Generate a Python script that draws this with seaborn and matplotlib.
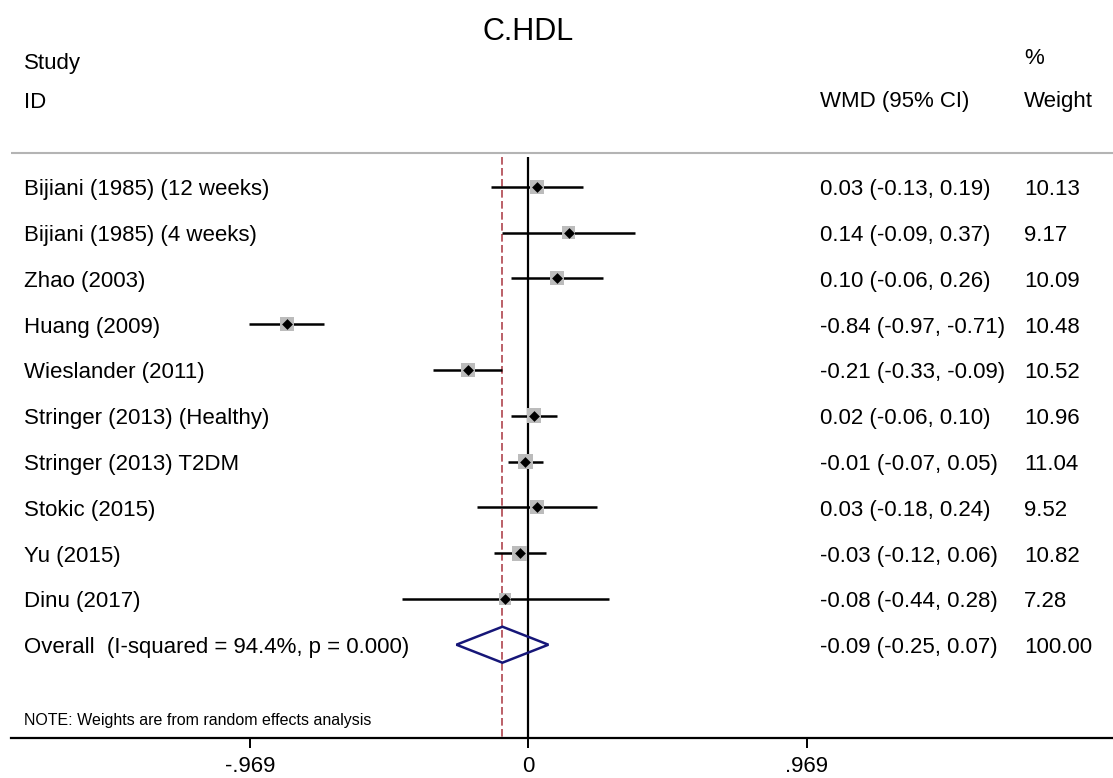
import numpy as np
import pandas as pd
import matplotlib
matplotlib.use("Agg")
import matplotlib.pyplot as plt
import matplotlib.transforms as mtransforms
from matplotlib.patches import Polygon
import seaborn as sns

# ---- data -------------------------------------------------------------
title = "C.HDL"
studies = [
    "Bijiani (1985) (12 weeks)",
    "Bijiani (1985) (4 weeks)",
    "Zhao (2003)",
    "Huang (2009)",
    "Wieslander (2011)",
    "Stringer (2013) (Healthy)",
    "Stringer (2013) T2DM",
    "Stokic (2015)",
    "Yu (2015)",
    "Dinu (2017)",
]
wmd = [0.03, 0.14, 0.10, -0.84, -0.21, 0.02, -0.01, 0.03, -0.03, -0.08]
ci_low = [-0.13, -0.09, -0.06, -0.97, -0.33, -0.06, -0.07, -0.18, -0.12, -0.44]
ci_high = [0.19, 0.37, 0.26, -0.71, -0.09, 0.10, 0.05, 0.24, 0.06, 0.28]
weights = [10.13, 9.17, 10.09, 10.48, 10.52, 10.96, 11.04, 9.52, 10.82, 7.28]

overall_label = "Overall  (I-squared = 94.4%, p = 0.000)"
overall_wmd = -0.09
overall_low = -0.25
overall_high = 0.07
overall_weight = 100.00

tick_values = [-0.969, 0.0, 0.969]
tick_labels = ["-.969", "0", ".969"]
note = "NOTE: Weights are from random effects analysis"

# ---- style ------------------------------------------------------------
sns.set_theme(style="white")
plt.rcParams["font.family"] = ["Liberation Sans", "DejaVu Sans"]
plt.rcParams["text.color"] = "black"
plt.rcParams["xtick.color"] = "black"
plt.rcParams["xtick.labelcolor"] = "black"

W, H = 1113, 778
fig = plt.figure(figsize=(W / 100, H / 100), dpi=100)

# layout in pixels
x_zero_px = 528.3
px_per_unit = 287.5
ax_left_px = 11
axis_y_px = 738
row0_px = 186.7
row_step_px = 45.8


def py2row(py):
    return (py - row0_px) / row_step_px


ax = fig.add_axes([ax_left_px / W, 1 - axis_y_px / H, 1 - ax_left_px / W, axis_y_px / H])

df = pd.DataFrame({
    "study": studies,
    "wmd": wmd,
    "low": ci_low,
    "high": ci_high,
    "weight": weights,
})
df["row"] = np.arange(len(df))
overall_row = len(df)

# confidence intervals
ax.hlines(df["row"], df["low"], df["high"], color="black", lw=1.8, zorder=3)

# weight boxes (area proportional to weight)
area_k = 10.5
wmin, wmax = min(weights), max(weights)
sns.scatterplot(data=df, x="wmd", y="row", size="weight",
                sizes=(area_k * wmin, area_k * wmax), size_norm=(wmin, wmax),
                marker="s", color="#bcbcbc", linewidth=0, legend=False,
                ax=ax, zorder=4)
# point estimates
sns.scatterplot(data=df, x="wmd", y="row", marker="D", color="black",
                s=30, linewidth=0, legend=False, ax=ax, zorder=5)

# pooled estimate diamond
half_h = 18 / row_step_px
diamond = Polygon([(overall_low, overall_row), (overall_wmd, overall_row - half_h),
                   (overall_high, overall_row), (overall_wmd, overall_row + half_h)],
                  closed=True, fill=False, edgecolor="#161678", lw=1.8, zorder=4)
ax.add_patch(diamond)

# null line and pooled-effect line
y_top, y_bot = py2row(157), py2row(axis_y_px)
ax.vlines(0, y_top, y_bot, color="black", lw=1.6, zorder=2)
ax.vlines(overall_wmd, y_top, y_bot, color="#a8343f", lw=1.1,
          linestyles=(0, (5, 2.2)), zorder=1)

# header rule
ax.axhline(py2row(153), color="#b4b4b4", lw=1.5, zorder=1)

ax.set_xlim((ax_left_px - x_zero_px) / px_per_unit, (W - x_zero_px) / px_per_unit)
ax.set_ylim(py2row(axis_y_px), py2row(0))
ax.set_xlabel("")
ax.set_ylabel("")
ax.set_yticks([])
ax.set_xticks(tick_values, tick_labels)
ax.tick_params(axis="x", bottom=True, direction="out", length=7, width=1.4,
               color="black", pad=6, labelsize=16, labelcolor="black")
for side in ("top", "left", "right"):
    ax.spines[side].set_visible(False)
ax.spines["bottom"].set_color("black")
ax.spines["bottom"].set_linewidth(1.6)
ax.patch.set_alpha(0)

# ---- text columns -----------------------------------------------------
trans = mtransforms.blended_transform_factory(fig.transFigure, ax.transData)
dy = 3 / row_step_px
fs = 16
col_study, col_wmd, col_wt = 24 / W, 820 / W, 1024 / W

for r, s, e, l, h, w in zip(df["row"], studies, wmd, ci_low, ci_high, weights):
    ax.text(col_study, r + dy, s, transform=trans, ha="left", va="center", fontsize=fs)
    ax.text(col_wmd, r + dy, f"{e:.2f} ({l:.2f}, {h:.2f})", transform=trans,
            ha="left", va="center", fontsize=fs)
    ax.text(col_wt, r + dy, f"{w:.2f}", transform=trans, ha="left", va="center", fontsize=fs)

ax.text(col_study, overall_row + dy, overall_label, transform=trans,
        ha="left", va="center", fontsize=fs)
ax.text(col_wmd, overall_row + dy,
        f"{overall_wmd:.2f} ({overall_low:.2f}, {overall_high:.2f})",
        transform=trans, ha="left", va="center", fontsize=fs)
ax.text(col_wt, overall_row + dy, f"{overall_weight:.2f}", transform=trans,
        ha="left", va="center", fontsize=fs)

# headers
fig.text(x_zero_px / W, 1 - 32 / H, title, ha="center", va="center", fontsize=22)
fig.text(col_study, 1 - 63 / H, "Study", ha="left", va="center", fontsize=fs)
fig.text(col_study, 1 - 102 / H, "ID", ha="left", va="center", fontsize=fs)
fig.text(col_wt, 1 - 58 / H, "%", ha="left", va="center", fontsize=fs)
fig.text(col_wmd, 1 - 102 / H, "WMD (95% CI)", ha="left", va="center", fontsize=fs)
fig.text(col_wt, 1 - 102 / H, "Weight", ha="left", va="center", fontsize=fs)

fig.text(col_study, 1 - 720 / H, note, ha="left", va="center", fontsize=11.5)

fig.savefig("out.png", dpi=100)
